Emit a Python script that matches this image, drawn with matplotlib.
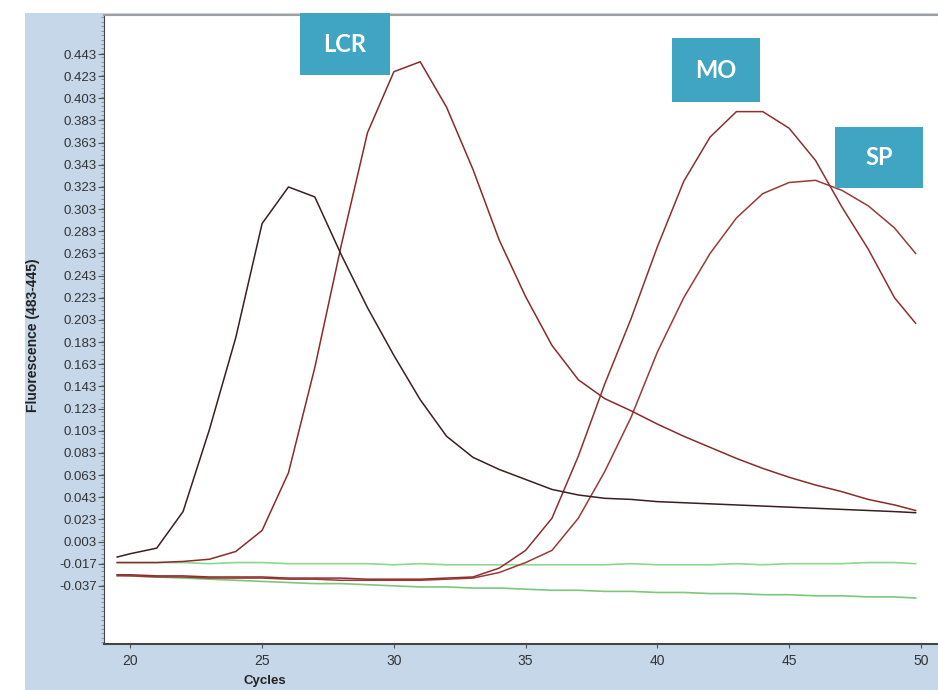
import matplotlib
matplotlib.use("Agg")
import matplotlib.pyplot as plt
from matplotlib.patches import Rectangle
from matplotlib.ticker import MultipleLocator

# cycle numbers (first point is the half cycle where the traces start)
cycles = [19.5, 20, 21, 22, 23, 24, 25, 26, 27, 28, 29, 30, 31, 32, 33, 34,
          35, 36, 37, 38, 39, 40, 41, 42, 43, 44, 45, 46, 47, 48, 49, 49.8]

# dark trace, early peak
early = [-0.011, -0.008, -0.003, 0.030, 0.104, 0.187, 0.290, 0.323, 0.314, 0.262,
         0.214, 0.171, 0.131, 0.098, 0.079, 0.068, 0.059, 0.050, 0.045, 0.042,
         0.041, 0.039, 0.038, 0.037, 0.036, 0.035, 0.034, 0.033, 0.032, 0.031,
         0.030, 0.029]
lcr = [-0.016, -0.016, -0.016, -0.015, -0.013, -0.006, 0.013, 0.065, 0.160, 0.270,
       0.372, 0.427, 0.436, 0.395, 0.339, 0.275, 0.224, 0.180, 0.149, 0.132,
       0.121, 0.109, 0.098, 0.088, 0.078, 0.069, 0.061, 0.054, 0.048, 0.041,
       0.036, 0.031]
mo = [-0.027, -0.027, -0.028, -0.028, -0.029, -0.029, -0.029, -0.030, -0.030, -0.030,
      -0.031, -0.031, -0.031, -0.030, -0.029, -0.021, -0.005, 0.024, 0.080, 0.145,
      0.204, 0.269, 0.328, 0.368, 0.391, 0.391, 0.376, 0.347, 0.305, 0.267,
      0.223, 0.200]
sp = [-0.028, -0.028, -0.029, -0.029, -0.030, -0.030, -0.030, -0.031, -0.031, -0.032,
      -0.032, -0.032, -0.032, -0.031, -0.030, -0.025, -0.016, -0.005, 0.024, 0.066,
      0.115, 0.174, 0.223, 0.263, 0.295, 0.317, 0.327, 0.329, 0.320, 0.306,
      0.286, 0.263]
neg1 = [-0.016, -0.016, -0.016, -0.016, -0.017, -0.016, -0.016, -0.017, -0.017, -0.017,
        -0.017, -0.018, -0.017, -0.018, -0.018, -0.018, -0.018, -0.018, -0.018, -0.018,
        -0.017, -0.018, -0.018, -0.018, -0.017, -0.018, -0.017, -0.017, -0.017, -0.016,
        -0.016, -0.017]
neg2 = [-0.027, -0.028, -0.029, -0.030, -0.031, -0.032, -0.033, -0.034, -0.035, -0.035,
        -0.036, -0.037, -0.038, -0.038, -0.039, -0.039, -0.040, -0.041, -0.041, -0.042,
        -0.042, -0.043, -0.043, -0.044, -0.044, -0.045, -0.045, -0.046, -0.046, -0.047,
        -0.047, -0.048]

ytick_vals = [0.443, 0.423, 0.403, 0.383, 0.363, 0.343, 0.323, 0.303, 0.283, 0.263,
              0.243, 0.223, 0.203, 0.183, 0.163, 0.143, 0.123, 0.103, 0.083, 0.063,
              0.043, 0.023, 0.003, -0.017, -0.037]
xtick_vals = [20, 25, 30, 35, 40, 45, 50]

W, H = 938, 690
tick_font = ['Liberation Sans Narrow', 'Liberation Sans', 'DejaVu Sans']
blue_bg = '#c5d7e9'
box_col = '#3fa5c2'

fig = plt.figure(figsize=(W / 100, H / 100), dpi=100, facecolor='white')

def fx(px):
    return px / W

def fy(py):
    return 1 - py / H

# light blue panel behind the plot (white strip at far left and top)
fig.patches.append(Rectangle((fx(25), 0), 1 - fx(25), fy(13), transform=fig.transFigure,
                             facecolor=blue_bg, edgecolor='none', zorder=-10))

# plot area runs off the right edge of the picture
ax = fig.add_axes([fx(104), fy(644), 1 - fx(104), fy(15) - fy(644)])
ax.set_zorder(1)
ax.set_facecolor('white')

ax.plot(cycles, neg1, color='#8fd68f', lw=1.2)
ax.plot(cycles, neg2, color='#7cc87c', lw=1.2)
ax.plot(cycles, sp, color='#9a3a38', lw=1.1)
ax.plot(cycles, mo, color='#8e2f2f', lw=1.1)
ax.plot(cycles, lcr, color='#8a2a2a', lw=1.1)
ax.plot(cycles, early, color='#3a1f1f', lw=1.1)

ax.set_xlim(19.0, 50.65)
ax.set_ylim(-0.0895, 0.4782)

ax.set_yticks(ytick_vals)
ax.set_yticklabels(['%.3f' % v for v in ytick_vals], family=tick_font, fontsize=9.5, color='#333333')
ax.yaxis.set_minor_locator(MultipleLocator(0.004))
ax.set_xticks(xtick_vals)
ax.set_xticklabels([str(v) for v in xtick_vals], family=tick_font, fontsize=10, color='#333333')

ax.tick_params(axis='y', which='major', length=4, width=0.8, color='#555555', pad=1)
ax.tick_params(axis='y', which='minor', length=2, width=0.5, color='#777777')
ax.tick_params(axis='x', which='major', length=3, width=0.8, color='#555555', pad=4)

ax.spines['right'].set_visible(False)
ax.spines['top'].set_color('#a0a0a0')
ax.spines['top'].set_linewidth(1.5)
ax.spines['left'].set_color('#444444')
ax.spines['bottom'].set_color('#444444')
ax.spines['bottom'].set_linewidth(1.5)

fig.text(fx(265), fy(681), 'Cycles', ha='center', va='center', fontsize=9.5,
         fontweight='bold', family=tick_font, color='#222222')
fig.text(fx(33), fy(335), 'Fluorescence (483-445)', ha='center', va='center', rotation=90,
         fontsize=10, fontweight='bold', family=tick_font, color='#222222')

# labelled boxes over the peaks
boxes = [('LCR', 300, 13, 390, 75), ('MO', 672, 38, 760, 102), ('SP', 835, 127, 923, 188)]
for name, x0, y0, x1, y1 in boxes:
    fig.patches.append(Rectangle((fx(x0), fy(y1)), fx(x1) - fx(x0), fy(y0) - fy(y1),
                                 transform=fig.transFigure, facecolor=box_col,
                                 edgecolor='none', zorder=5))
    fig.text(fx((x0 + x1) / 2), fy((y0 + y1) / 2), name, ha='center', va='center',
             fontsize=17, fontweight='bold', family='Lato', color='white', zorder=6)

fig.savefig('out.png', dpi=100, facecolor='white')
